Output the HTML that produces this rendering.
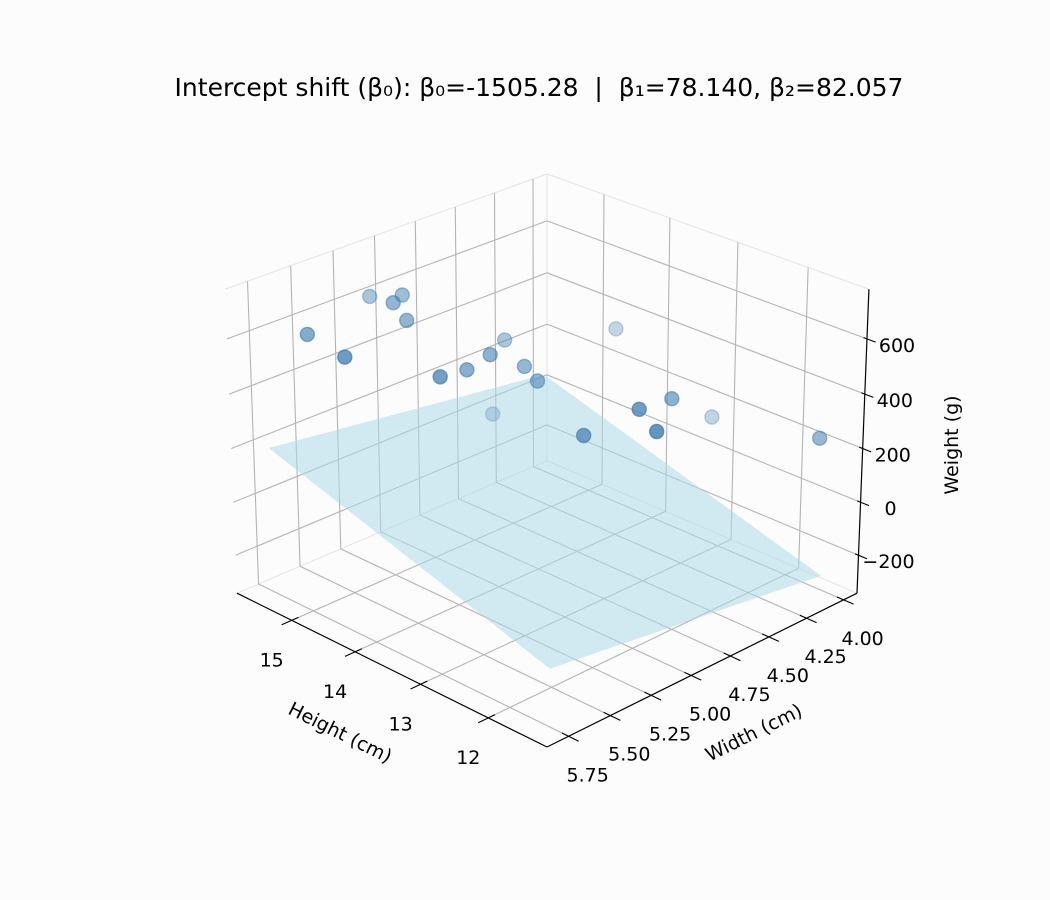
<!DOCTYPE html>
<html><head><meta charset="utf-8">
<style>
html,body{margin:0;padding:0;background:#fcfcfc;}
svg{display:block;font-family:"DejaVu Sans","Liberation Sans",sans-serif;}
</style></head>
<body>
<svg id="chart" width="1050" height="900" viewBox="0 0 1050 900">
<rect x="0" y="0" width="1050" height="900" fill="#fcfcfc"/>
<text x="539" y="96" font-size="25" text-anchor="middle" fill="#000">Intercept shift (β₀): β₀=-1505.28&#160; | &#160;β₁=78.140, β₂=82.057</text>
<g id="grid"></g>
<g id="plane"></g>
<g id="points"></g>
<g id="axes"></g>
<text x="340" y="739" font-size="19" text-anchor="middle" transform="rotate(26.5 340 733)">Height (cm)</text>
<text x="754" y="739" font-size="19" text-anchor="middle" transform="rotate(-26.5 754 733)">Width (cm)</text>
<text x="952" y="451" font-size="19" text-anchor="middle" transform="rotate(-90 952 445)">Weight (g)</text>
</svg>
<script>
// ---- data ----
const heights = [15.27,14.42,15.67,15.01,15.18,14.83,13.79,14.07,14.04,14.56,13.87,13.77,15.05,12.66,14.15,12.17,11.74,12.52,13.08,11.45];
const widths  = [5.64,5.74,5.12,5.23,5.11,5.22,5.43,5.16,5.03,4.73,4.89,4.85,4.61,5.03,4.19,4.90,4.98,4.54,4.02,4.06];
const weights = [621,646,602,666,651,617,565,498,525,458,466,413,102,372,414,484,469,399,147,246];
const beta0 = -1505.28, beta1 = 78.140, beta2 = 82.057;
const xTicks = [12,13,14,15];
const yTicks = [4.00,4.25,4.50,4.75,5.00,5.25,5.50,5.75];
const zTicks = [-200,0,200,400,600];
const xTickLabels = ["12","13","14","15"];
const yTickLabels = ["4.00","4.25","4.50","4.75","5.00","5.25","5.50","5.75"];
const zTickLabels = ["\u2212200","0","200","400","600"];
const xlim = [11.16, 15.89];
const ylim = [3.908, 5.878];
const zlim = [-345, 778];

// ---- projection (matplotlib-like perspective) ----
const NS = "http://www.w3.org/2000/svg";
const aspN = Math.hypot(4,4,3);
const asp = [4,4,3].map(a => a * 1.8294640721620434 * 25/24 / aspN);
const R = asp.map(a => a/2);
const elev = 25*Math.PI/180, azim = 135*Math.PI/180, dist = 10;
const ps = [Math.cos(elev)*Math.cos(azim), Math.cos(elev)*Math.sin(azim), Math.sin(elev)];
const eye = R.map((r,i) => r + dist*ps[i]);
function sub(a,b){return [a[0]-b[0],a[1]-b[1],a[2]-b[2]];}
function dot(a,b){return a[0]*b[0]+a[1]*b[1]+a[2]*b[2];}
function cross(a,b){return [a[1]*b[2]-a[2]*b[1], a[2]*b[0]-a[0]*b[2], a[0]*b[1]-a[1]*b[0]];}
function nrm(a){const n=Math.hypot(a[0],a[1],a[2]);return a.map(v=>v/n);}
const w = nrm(sub(eye,R));
const u = nrm(cross([0,0,1], w));
const v = cross(w, u);
function rawProj(x,y,z){
  const p = [(x-xlim[0])/(xlim[1]-xlim[0])*asp[0], (y-ylim[0])/(ylim[1]-ylim[0])*asp[1], (z-zlim[0])/(zlim[1]-zlim[0])*asp[2]];
  const r = sub(p, eye);
  const zv = dot(w,r);
  return [dot(u,r)/(-zv), dot(v,r)/(-zv), -zv];
}
const pL = rawProj(xlim[1], ylim[1], zlim[0]);
const pR = rawProj(xlim[0], ylim[0], zlim[0]);
const pRT = rawProj(xlim[0], ylim[0], zlim[1]);
const pF = rawProj(xlim[0], ylim[1], zlim[0]);
const SX = (857-237)/(pR[0]-pL[0]);
const SY = (594-290)/(pRT[1]-pR[1]);
const CX = 547 - SX*pF[0];
const CY = 747 + SY*pF[1];
function P(x,y,z){const q = rawProj(x,y,z); return [CX + SX*q[0], CY - SY*q[1], q[2]];}

function line(g, a, b, stroke, sw, name){
  const el = document.createElementNS(NS,"line");
  el.setAttribute("x1",a[0].toFixed(2)); el.setAttribute("y1",a[1].toFixed(2));
  el.setAttribute("x2",b[0].toFixed(2)); el.setAttribute("y2",b[1].toFixed(2));
  el.setAttribute("stroke",stroke); el.setAttribute("stroke-width",sw);
  
  
  g.appendChild(el);
  return el;
}
function text(g, pos, str, name){
  const t = document.createElementNS(NS,"text");
  t.setAttribute("x",pos[0].toFixed(1)); t.setAttribute("y",(pos[1]+7).toFixed(1));
  t.setAttribute("font-size","19"); t.setAttribute("text-anchor","middle");
  t.textContent = str;
  
  
  g.appendChild(t);
}

const grid = document.getElementById("grid");
const gc = "#b4b4b4", pc = "#e4e4e4";
line(grid, P(xlim[1],ylim[0],zlim[0]), P(xlim[1],ylim[0],zlim[1]), pc, 1, "pane-edge");
line(grid, P(xlim[1],ylim[0],zlim[1]), P(xlim[0],ylim[0],zlim[1]), pc, 1, "pane-edge");
line(grid, P(xlim[1],ylim[0],zlim[1]), P(xlim[1],ylim[1],zlim[1]), pc, 1, "pane-edge");
line(grid, P(xlim[1],ylim[0],zlim[0]), P(xlim[0],ylim[0],zlim[0]), pc, 1, "pane-edge");
line(grid, P(xlim[1],ylim[0],zlim[0]), P(xlim[1],ylim[1],zlim[0]), pc, 1, "pane-edge");
xTicks.forEach(x => {
  line(grid, P(x,ylim[1],zlim[0]), P(x,ylim[0],zlim[0]), gc, 1.1, "x-gridline-floor");
  line(grid, P(x,ylim[0],zlim[0]), P(x,ylim[0],zlim[1]), gc, 1.1, "x-gridline-wall");
});
yTicks.forEach(y => {
  line(grid, P(xlim[0],y,zlim[0]), P(xlim[1],y,zlim[0]), gc, 1.1, "y-gridline-floor");
  line(grid, P(xlim[1],y,zlim[0]), P(xlim[1],y,zlim[1]), gc, 1.1, "y-gridline-wall");
});
zTicks.forEach(z => {
  line(grid, P(xlim[1],ylim[1],z), P(xlim[1],ylim[0],z), gc, 1.1, "z-gridline-left");
  line(grid, P(xlim[1],ylim[0],z), P(xlim[0],ylim[0],z), gc, 1.1, "z-gridline-right");
});

const hMin = Math.min(...heights), hMax = Math.max(...heights);
const wMin = Math.min(...widths), wMax = Math.max(...widths);
function planeZ(h,wd){return beta0 + beta1*h + beta2*wd;}
const corners = [[hMin,wMin],[hMax,wMin],[hMax,wMax],[hMin,wMax]].map(c => P(c[0],c[1],planeZ(c[0],c[1])));
const poly = document.createElementNS(NS,"polygon");
poly.setAttribute("points", corners.map(c => c[0].toFixed(1)+","+c[1].toFixed(1)).join(" "));
poly.setAttribute("fill","#add8e6");
poly.setAttribute("fill-opacity","0.55");


document.getElementById("plane").appendChild(poly);

const pts = heights.map((h,i) => { const q = P(h, widths[i], weights[i]); return {i, x:q[0], y:q[1], d:q[2]}; });
const dMin = Math.min(...pts.map(p=>p.d)), dMax = Math.max(...pts.map(p=>p.d));
pts.sort((a,b) => b.d - a.d);
const pg = document.getElementById("points");
pts.forEach(p => {
  const t = (p.d - dMin)/((dMax - dMin)||1);
  const a = (1 - 0.7*t) * 0.85;
  const c = document.createElementNS(NS,"circle");
  c.setAttribute("cx",p.x.toFixed(1)); c.setAttribute("cy",p.y.toFixed(1)); c.setAttribute("r","7");
  c.setAttribute("fill","#4682b4"); c.setAttribute("fill-opacity",a.toFixed(3));
  c.setAttribute("stroke","#4682b4"); c.setAttribute("stroke-opacity",a.toFixed(3)); c.setAttribute("stroke-width","1.4");
  
  
  pg.appendChild(c);
});

const ax = document.getElementById("axes");
line(ax, P(xlim[0],ylim[1],zlim[0]), P(xlim[1],ylim[1],zlim[0]), "#000", 1.2, "x-axis-line");
line(ax, P(xlim[0],ylim[1],zlim[0]), P(xlim[0],ylim[0],zlim[0]), "#000", 1.2, "y-axis-line");
line(ax, P(xlim[0],ylim[0],zlim[0]), P(xlim[0],ylim[0],zlim[1]), "#000", 1.2, "z-axis-line");
const dy = ylim[1]-ylim[0], dx = xlim[1]-xlim[0];
xTicks.forEach((x,i) => {
  line(ax, P(x,ylim[1]-0.02*dy,zlim[0]), P(x,ylim[1]+0.03*dy,zlim[0]), "#000", 1.1, "x-tick");
  const t = P(x,ylim[1],zlim[0]);
  text(ax, [t[0]-20, t[1]+39], xTickLabels[i], "x-tick-label");
});
yTicks.forEach((y,i) => {
  line(ax, P(xlim[0]+0.02*dx,y,zlim[0]), P(xlim[0]-0.03*dx,y,zlim[0]), "#000", 1.1, "y-tick");
  const t = P(xlim[0],y,zlim[0]);
  text(ax, [t[0]+19, t[1]+38], yTickLabels[i], "y-tick-label");
});
zTicks.forEach((z,i) => {
  line(ax, P(xlim[0]+0.01*dx,ylim[0],z), P(xlim[0]-0.025*dx,ylim[0],z), "#000", 1.1, "z-tick");
  const t = P(xlim[0],ylim[0],z);
  text(ax, [t[0]+30, t[1]+6], zTickLabels[i], "z-tick-label");
});
</script>
</body></html>
